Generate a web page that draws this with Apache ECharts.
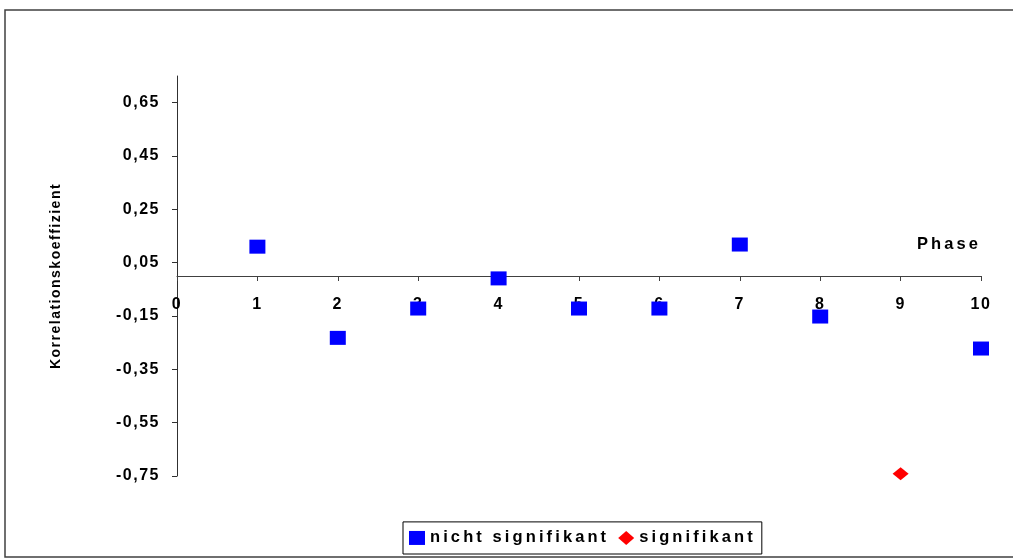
<!DOCTYPE html>
<html>
<head>
<meta charset="utf-8">
<script src="https://cdn.jsdelivr.net/npm/echarts@6.0.0/dist/echarts.min.js"></script>
<style>
html,body{margin:0;padding:0;background:#fff;}
#chart{width:1013px;height:559px;}
</style>
</head>
<body>
<div id="chart"></div>
<script>
// Letter spacing emulating the original's spaced-out bold text (keyed by font size)
(function(){
  var P = CanvasRenderingContext2D.prototype;
  var SP = {'16':'1.5px','14':'1.5px','16.5':'3.1px'};
  function apply(ctx){
    var m = /(\d+(?:\.\d+)?)px/.exec(ctx.font);
    try { ctx.letterSpacing = (m && SP[m[1]]) || '0px'; } catch(e) {}
  }
  var f = P.fillText, s = P.strokeText, mt = P.measureText;
  P.fillText = function(){ apply(this); return f.apply(this, arguments); };
  P.strokeText = function(){ apply(this); return s.apply(this, arguments); };
  P.measureText = function(){ apply(this); return mt.apply(this, arguments); };
})();

// ---- data ----
var phasesNS = [1, 2, 3, 4, 5, 6, 7, 8, 10];
var valuesNS = [0.11, -0.232, -0.122, -0.009, -0.122, -0.122, 0.118, -0.152, -0.272];
var phasesS = [9];
var valuesS = [-0.742];
var yTicks = [-0.75, -0.55, -0.35, -0.15, 0.05, 0.25, 0.45, 0.65];
var xTicks = [0, 1, 2, 3, 4, 5, 6, 7, 8, 9, 10];
var seriesNames = ['nicht signifikant', 'signifikant'];
var xName = 'Phase';
var yName = 'Korrelationskoeffizient';

var FONT = "'Liberation Sans', Arial, sans-serif";
var Y_MIN = -0.75, Y_MAX = 0.75;
var GRID = {left: 177, right: 32, top: 76, bottom: 83};
var gridH = 559 - GRID.top - GRID.bottom;
// move the x axis up so it crosses the y axis at value 0
var xAxisOffset = -gridH * (0 - Y_MIN) / (Y_MAX - Y_MIN);

function pairs(xs, ys){ return xs.map(function(x, i){ return [x, ys[i]]; }); }

var chart = echarts.init(document.getElementById('chart'), null, {renderer: 'canvas'});
chart.setOption({
  animation: false,
  backgroundColor: '#ffffff',
  graphic: [{
    type: 'rect',
    shape: {x: 5, y: 10, width: 1030, height: 547},
    style: {fill: 'none', stroke: '#404040', lineWidth: 1.5},
    silent: true
  }],
  grid: {left: GRID.left, right: GRID.right, top: GRID.top, bottom: GRID.bottom, outerBoundsMode: 'none'},
  xAxis: {
    type: 'value',
    min: 0, max: 10, interval: 1,
    position: 'bottom',
    offset: xAxisOffset,
    name: xName,
    nameLocation: 'end',
    nameGap: 0,
    nameTextStyle: {fontFamily: FONT, fontSize: 16.5, fontWeight: 'bold', color: '#000',
                    align: 'right', verticalAlign: 'bottom', padding: [0, 0, 21, 0]},
    axisLine: {onZero: false, lineStyle: {color: '#404040', width: 1}},
    axisTick: {show: true, inside: false, length: 5, lineStyle: {color: '#404040'}, customValues: xTicks},
    axisLabel: {customValues: xTicks, margin: 20, fontFamily: FONT, fontSize: 16, fontWeight: 'bold', color: '#000'},
    splitLine: {show: false}
  },
  yAxis: {
    type: 'value',
    min: Y_MIN, max: Y_MAX,
    name: yName,
    nameLocation: 'middle',
    nameRotate: 90,
    nameGap: 113,
    nameTextStyle: {fontFamily: FONT, fontSize: 14, fontWeight: 'bold', color: '#000'},
    axisLine: {show: true, onZero: false, lineStyle: {color: '#303030', width: 1}},
    axisTick: {show: true, inside: false, length: 5, lineStyle: {color: '#303030'}, customValues: yTicks},
    axisLabel: {
      customValues: yTicks, margin: 17,
      fontFamily: FONT, fontSize: 16, fontWeight: 'bold', color: '#000',
      formatter: function(v){ return v.toFixed(2).replace('.', ','); }
    },
    splitLine: {show: false}
  },
  legend: {
    left: 403, bottom: 5,
    orient: 'horizontal',
    padding: [6, 6, 6, 6],
    itemGap: 9,
    itemWidth: 16, itemHeight: 14,
    borderColor: '#000', borderWidth: 1,
    backgroundColor: '#fff',
    textStyle: {fontFamily: FONT, fontSize: 16.5, fontWeight: 'bold', color: '#000'},
    data: [{name: seriesNames[0], icon: 'rect'}, {name: seriesNames[1], icon: 'diamond'}]
  },
  series: [
    {
      name: seriesNames[0], type: 'scatter',
      symbol: 'rect', symbolSize: [16, 14],
      itemStyle: {color: '#0000FF', opacity: 1},
      data: pairs(phasesNS, valuesNS)
    },
    {
      name: seriesNames[1], type: 'scatter',
      symbol: 'diamond', symbolSize: [16, 13],
      itemStyle: {color: '#FF0000', opacity: 1},
      data: pairs(phasesS, valuesS)
    }
  ]
});
</script>
</body>
</html>
